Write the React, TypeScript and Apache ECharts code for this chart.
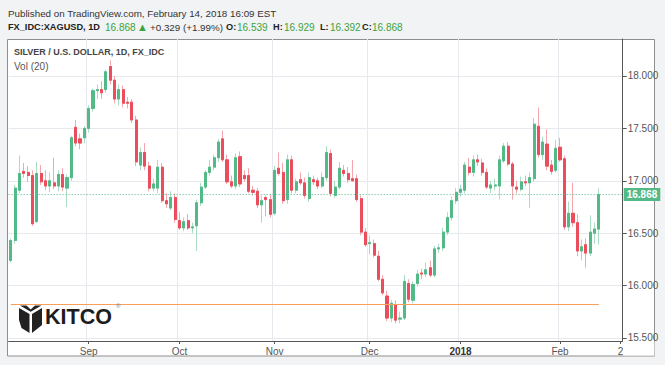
import React, { useEffect, useRef } from "react";
import * as echarts from "echarts";

const START_DATE = "2017-08-08";
const FUTURE_SLOTS = 5;

const opens = [
  16.24, 16.43, 16.91, 17.09, 17.08, 17.05, 16.61, 17.07, 17.0, 16.95,
  16.98, 16.95, 17.06, 16.93, 17.03, 17.51, 17.4, 17.41, 17.5, 17.69,
  17.86, 17.87, 17.87, 18.09, 17.96, 17.78, 17.87, 17.75, 17.75, 17.58,
  17.15, 17.27, 17.14, 16.93, 16.93, 17.13, 16.81, 16.74, 16.84, 16.62,
  16.55, 16.62, 16.55, 16.57, 16.79, 16.94, 17.08, 17.13, 17.22, 17.4,
  17.2, 16.99, 16.95, 17.23, 17.05, 17.05, 16.91, 16.9, 16.77, 16.84,
  16.82, 16.69, 17.12, 17.08, 16.82, 17.2, 16.91, 17.01, 16.98, 16.83,
  17.01, 17.0, 16.95, 17.03, 17.26, 16.86, 16.94, 17.1, 17.07, 17.02,
  17.02, 16.83, 16.51, 16.4, 16.4, 16.28, 16.06, 15.9, 15.69, 15.82,
  15.68, 15.69, 16.02, 15.86, 16.02, 16.12, 16.11, 16.17, 16.1, 16.35,
  16.36, 16.51, 16.65, 16.81, 16.89, 16.91, 17.13, 17.08, 17.2, 17.17,
  17.08, 16.93, 16.95, 16.95, 17.19, 17.33, 17.16, 16.94, 16.92, 16.99,
  16.98, 17.02, 17.52, 17.25, 17.35, 17.15, 17.1, 17.32, 17.21, 16.56,
  16.69, 16.6, 16.33, 16.39, 16.31, 16.5, 16.539,
];
const highs = [
  16.45, 16.96, 17.24, 17.17, 17.14, 17.1, 17.18, 17.15, 17.1, 17.08,
  17.22, 17.1, 17.12, 17.06, 17.43, 17.58, 17.45, 17.52, 17.72, 17.88,
  17.92, 17.95, 18.06, 18.15, 18.0, 17.92, 17.91, 17.8, 17.78, 17.62,
  17.32, 17.36, 17.18, 17.02, 17.2, 17.17, 16.88, 16.9, 16.88, 16.7,
  16.65, 16.68, 16.6, 16.82, 16.98, 17.1, 17.2, 17.25, 17.4, 17.48,
  17.25, 17.05, 17.26, 17.28, 17.1, 17.12, 16.95, 16.93, 16.86, 16.86,
  16.87, 17.14, 17.27, 17.17, 17.25, 17.24, 17.02, 17.08, 17.03, 17.08,
  17.05, 17.03, 17.08, 17.33, 17.3, 17.0, 17.18, 17.15, 17.13, 17.2,
  17.06, 16.86, 16.55, 16.48, 16.44, 16.33, 16.1, 15.95, 15.86, 15.86,
  15.75, 16.1, 16.06, 16.04, 16.15, 16.16, 16.22, 16.24, 16.38, 16.4,
  16.55, 16.7, 16.85, 16.93, 16.96, 17.18, 17.22, 17.24, 17.25, 17.21,
  17.12, 17.0, 17.02, 17.24, 17.36, 17.37, 17.18, 17.0, 17.04, 17.05,
  17.08, 17.6, 17.7, 17.42, 17.49, 17.2, 17.39, 17.41, 17.24, 16.8,
  16.98, 16.68, 16.44, 16.45, 16.67, 16.6, 16.929,
];
const lows = [
  16.22, 16.4, 16.88, 17.03, 16.99, 16.57, 16.6, 16.96, 16.91, 16.89,
  16.92, 16.9, 16.9, 16.75, 17.0, 17.33, 17.3, 17.36, 17.46, 17.66,
  17.78, 17.78, 17.84, 17.92, 17.74, 17.72, 17.7, 17.69, 17.55, 17.14,
  17.1, 17.1, 16.9, 16.9, 16.88, 16.79, 16.74, 16.72, 16.6, 16.53,
  16.52, 16.53, 16.5, 16.33, 16.76, 16.92, 17.05, 17.1, 17.18, 17.18,
  16.97, 16.93, 16.92, 16.94, 16.99, 16.88, 16.86, 16.74, 16.6, 16.66,
  16.65, 16.67, 17.05, 16.78, 16.78, 16.88, 16.88, 16.96, 16.83, 16.8,
  16.96, 16.92, 16.93, 17.0, 16.85, 16.84, 16.92, 17.04, 16.98, 16.99,
  16.8, 16.48, 16.37, 16.3, 16.27, 16.04, 15.91, 15.66, 15.65, 15.64,
  15.64, 15.67, 15.84, 15.83, 15.99, 16.06, 16.08, 16.08, 16.08, 16.31,
  16.33, 16.48, 16.62, 16.78, 16.85, 16.88, 17.05, 17.04, 17.14, 17.05,
  16.92, 16.88, 16.91, 16.82, 17.17, 17.14, 16.82, 16.88, 16.9, 16.95,
  16.74, 16.99, 17.22, 17.2, 17.1, 17.06, 17.08, 17.18, 16.53, 16.52,
  16.56, 16.28, 16.24, 16.17, 16.28, 16.4, 16.392,
];
const closes = [
  16.43, 16.93, 17.07, 17.07, 17.05, 16.59, 17.07, 16.99, 16.95, 17.0,
  16.95, 17.06, 16.94, 17.03, 17.41, 17.36, 17.36, 17.5, 17.69, 17.86,
  17.87, 17.84, 18.04, 17.96, 17.78, 17.87, 17.74, 17.74, 17.58, 17.18,
  17.27, 17.14, 16.93, 16.97, 17.13, 16.81, 16.78, 16.84, 16.63, 16.55,
  16.61, 16.55, 16.56, 16.79, 16.94, 17.08, 17.13, 17.22, 17.37, 17.2,
  16.99, 16.95, 17.22, 16.97, 17.02, 16.9, 16.89, 16.77, 16.81, 16.82,
  16.68, 17.1, 17.07, 16.81, 17.2, 16.91, 16.99, 16.98, 16.86, 17.03,
  16.99, 16.95, 17.03, 17.27, 16.88, 16.94, 17.12, 17.07, 17.01, 17.0,
  16.82, 16.51, 16.39, 16.41, 16.29, 16.06, 15.93, 15.69, 15.83, 15.67,
  15.69, 16.04, 15.87, 16.01, 16.11, 16.11, 16.15, 16.1, 16.35, 16.36,
  16.51, 16.65, 16.81, 16.89, 16.92, 17.15, 17.08, 17.2, 17.18, 17.08,
  16.94, 16.96, 16.96, 17.2, 17.33, 17.16, 16.95, 16.92, 16.99, 16.98,
  17.03, 17.54, 17.25, 17.37, 17.14, 17.09, 17.31, 17.2, 16.56, 16.69,
  16.6, 16.33, 16.37, 16.31, 16.51, 16.54, 16.868,
];

const xTickLabels: [string, string][] = [
  ["2017-09-01", "Sep"],
  ["2017-10-02", "Oct"],
  ["2017-11-01", "Nov"],
  ["2017-12-01", "Dec"],
  ["2018-01-01", "2018"],
  ["2018-02-01", "Feb"],
  ["2018-02-21", "2"],
];
const yTicks = [15.5, 16, 16.5, 17, 17.5, 18];
const Y_MIN = 15.471;
const Y_MAX = 18.353;
const SUPPORT_LEVEL = 15.825;

const PUBLISHED = "Published on TradingView.com, February 14, 2018 16:09 EST";
const SYMBOL = "FX_IDC:XAGUSD, 1D";
const CHANGE = "+0.329 (+1.99%)";
const TITLE = "SILVER / U.S. DOLLAR, 1D, FX_IDC";
const VOL = "Vol (20)";

const UP = "#53b987";
const DOWN = "#eb4d5c";
const UP_WICK = "#a9dcc3";
const DOWN_WICK = "#f4a7ae";
const TEXT_GREEN = "#3da33d";
const FONT = '"Liberation Sans", Arial, sans-serif';

function weekdays(start: string, n: number): string[] {
  const out: string[] = [];
  const d = new Date(start + "T00:00:00Z");
  while (out.length < n) {
    const wd = d.getUTCDay();
    if (wd !== 0 && wd !== 6) out.push(d.toISOString().slice(0, 10));
    d.setUTCDate(d.getUTCDate() + 1);
  }
  return out;
}

export default function App() {
  const ref = useRef<HTMLDivElement>(null);

  useEffect(() => {
    if (!ref.current) return;
    const chart = echarts.init(ref.current, undefined, { renderer: "svg" });
    const n = opens.length;
    const dates = weekdays(START_DATE, n + FUTURE_SLOTS);
    const labelMap: Record<string, string> = {};
    xTickLabels.forEach(([d, l]) => (labelMap[d] = l));
    const lastClose = closes[n - 1];
    const lastOpen = opens[n - 1];
    const lastHigh = highs[n - 1];
    const lastLow = lows[n - 1];
    const change = lastClose - closes[n - 2];

    const wickData = opens.map((o, i) => [o, closes[i], lows[i], highs[i]]);
    const bodyData = opens.map((o, i) => [
      o,
      closes[i],
      Math.min(o, closes[i]),
      Math.max(o, closes[i]),
    ]);

    const txt = (x: number, y: number, text: string, fill: string, size: number, weight: string = "normal") => ({
      type: "text",
      x,
      y,
      z: 10,
      style: {
        text,
        fill,
        font: `${weight} ${size}px ${FONT}`,
        verticalAlign: "middle",
      },
    });

    const option: any = {
      animation: false,
      backgroundColor: "#f2f3f5",
      grid: {
        left: 8.65,
        right: 42.3,
        top: 39,
        bottom: 24,
        containLabel: false,
        outerBoundsMode: "none",
      },
      xAxis: {
        type: "category",
        data: dates,
        boundaryGap: true,
        axisLine: { show: true, lineStyle: { color: "#555", width: 1 } },
        axisTick: {
          show: true,
          alignWithLabel: true,
          length: 3,
          interval: (i: number, v: string) => v in labelMap,
          lineStyle: { color: "#555" },
        },
        axisLabel: {
          interval: (i: number, v: string) => v in labelMap,
          formatter: (v: string) => (labelMap[v] === "2018" ? "{y|2018}" : labelMap[v] || ""),
          color: "#555",
          fontSize: 10,
          fontFamily: FONT,
          margin: 5,
          rich: { y: { fontWeight: "bold", fontSize: 10, color: "#333", fontFamily: FONT } },
        },
        splitLine: {
          show: true,
          interval: (i: number, v: string) => v in labelMap && labelMap[v] !== "2",
          lineStyle: { color: "#e6e9ee", width: 1 },
        },
      },
      yAxis: {
        type: "value",
        position: "right",
        min: Y_MIN,
        max: Y_MAX,
        scale: true,
        axisLine: { show: true, lineStyle: { color: "#555", width: 1 } },
        axisTick: { show: true, length: 4, customValues: yTicks, lineStyle: { color: "#555" } },
        axisLabel: {
          customValues: yTicks,
          formatter: (v: number) => v.toFixed(3),
          color: "#555",
          fontSize: 10,
          fontFamily: FONT,
          margin: 5,
        },
        splitLine: { show: true, lineStyle: { color: "#e6e9ee", width: 1 } },
      },
      series: [
        {
          type: "candlestick",
          name: "wicks",
          data: wickData,
          barWidth: 2.6,
          silent: true,
          itemStyle: {
            color: UP_WICK,
            color0: DOWN_WICK,
            borderColor: UP_WICK,
            borderColor0: DOWN_WICK,
            borderWidth: 1,
          },
        },
        {
          type: "candlestick",
          name: "bodies",
          data: bodyData,
          barWidth: 2.6,
          silent: true,
          itemStyle: {
            color: UP,
            color0: DOWN,
            borderColor: UP,
            borderColor0: DOWN,
            borderWidth: 1,
          },
          markLine: {
            silent: true,
            symbol: ["none", "none"],
            data: [
              {
                yAxis: lastClose,
                lineStyle: { color: UP, type: [1, 2], width: 1 },
                label: {
                  show: true,
                  position: "end",
                  distance: 1,
                  formatter: lastClose.toFixed(3),
                  backgroundColor: UP,
                  color: "#fff",
                  fontWeight: "bold",
                  fontSize: 10,
                  fontFamily: FONT,
                  padding: [2, 3, 1, 3],
                },
              },
              [
                { coord: [dates[0], SUPPORT_LEVEL], lineStyle: { color: "#f7a05c", width: 1.2, type: "solid" }, label: { show: false } },
                { coord: [dates[n - 1], SUPPORT_LEVEL] },
              ],
            ],
          },
        },
      ],
      graphic: {
        elements: [
          {
            type: "rect",
            z: -1,
            shape: { x: 7.5, y: 39.5, width: 647, height: 316.5 },
            style: { fill: "#ffffff", stroke: "#8f8f8f", lineWidth: 1 },
          },
          txt(8, 13, PUBLISHED, "#333", 9.8),
          txt(8, 27, SYMBOL, "#222", 9.2, "bold"),
          txt(105, 27, lastClose.toFixed(3), TEXT_GREEN, 10),
          txt(137, 27, change >= 0 ? "▲" : "▼", TEXT_GREEN, 11),
          txt(150, 27, CHANGE, "#333", 9.8),
          txt(226, 27, "O:", "#222", 9.2, "bold"),
          txt(237, 27, lastOpen.toFixed(3), TEXT_GREEN, 10),
          txt(273, 27, "H:", "#222", 9.2, "bold"),
          txt(284, 27, lastHigh.toFixed(3), TEXT_GREEN, 10),
          txt(320, 27, "L:", "#222", 9.2, "bold"),
          txt(330, 27, lastLow.toFixed(3), TEXT_GREEN, 10),
          txt(362, 27, "C:", "#222", 9.2, "bold"),
          txt(372, 27, lastClose.toFixed(3), TEXT_GREEN, 10),
          txt(14, 52, TITLE, "#444", 9, "bold"),
          txt(14, 66, VOL, "#555", 10),
          {
            type: "polygon",
            z: 10,
            shape: { points: [[20, 305.5], [26.5, 305.5], [30.7, 309.5], [35, 305.5], [41.5, 305.5], [30.7, 311.8]] },
            style: { fill: "#222" },
          },
          {
            type: "polygon",
            z: 10,
            shape: { points: [[19, 308], [29.5, 314], [29.5, 333], [21.5, 328], [19, 320]] },
            style: { fill: "#222" },
          },
          {
            type: "polygon",
            z: 10,
            shape: { points: [[32, 314], [42, 308], [42, 325], [32, 333]] },
            style: { fill: "#222" },
          },
          txt(45, 317, "KITCO", "#1c1c1c", 21.5, "bold"),
          txt(116, 306, "®", "#777", 6),
          {
            type: "rect",
            z: 20,
            shape: { x: 623.5, y: 341.5, width: 31, height: 14 },
            style: { fill: "#ffffff" },
          },
        ],
      },
    };

    chart.setOption(option);
    return () => chart.dispose();
  }, []);

  return (
    <div
      ref={ref}
      style={{ position: "fixed", left: 0, top: 0, width: 665, height: 365 }}
    />
  );
}
